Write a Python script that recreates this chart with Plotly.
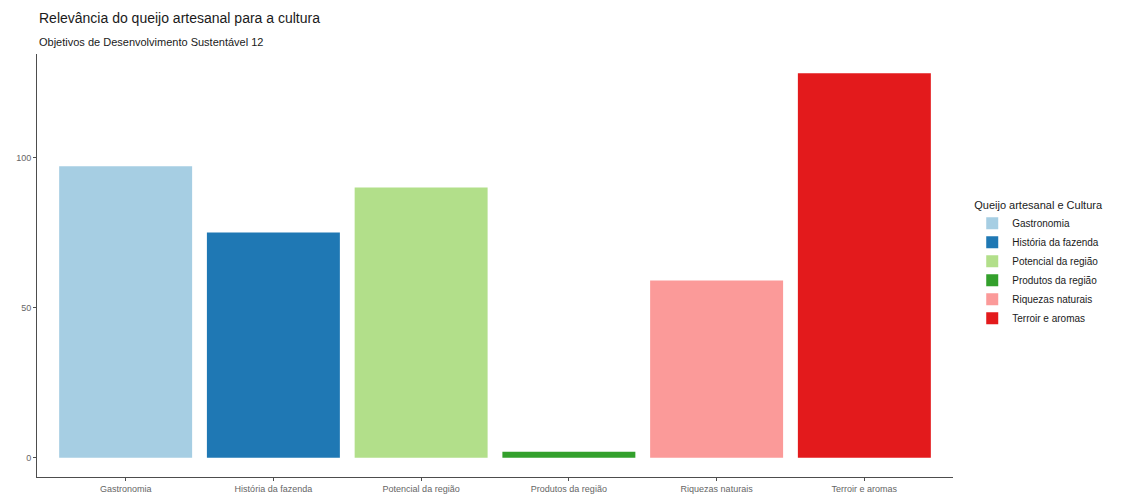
import plotly.graph_objects as go

categories = ["Gastronomia", "História da fazenda", "Potencial da região",
              "Produtos da região", "Riquezas naturais", "Terroir e aromas"]
values = [97, 75, 90, 2, 59, 128]
colors = ["#A6CEE3", "#1F78B4", "#B2DF8A", "#33A02C", "#FB9A99", "#E31A1C"]
y_ticks = [0, 50, 100]

fig = go.Figure()
for c, v, col in zip(categories, values, colors):
    fig.add_trace(go.Bar(x=[c], y=[v], name=c, marker=dict(color=col, line=dict(width=0)),
                         width=0.9, showlegend=True))

fig.add_annotation(text="Relevância do queijo artesanal para a cultura",
                   xref="paper", yref="paper", x=0, xanchor="left",
                   y=1 + 36/423, yanchor="middle", showarrow=False,
                   font=dict(size=14, color="#1a1a1a"))
fig.add_annotation(text="Objetivos de Desenvolvimento Sustentável 12",
                   xref="paper", yref="paper", x=0, xanchor="left",
                   y=1 + 12/423, yanchor="middle", showarrow=False,
                   font=dict(size=11, color="#1a1a1a"))

fig.update_layout(
    width=1137, height=486,
    barmode="overlay",
    plot_bgcolor="white", paper_bgcolor="white",
    font=dict(family="Liberation Sans, Arial, sans-serif", color="#4D4D4D"),
    margin=dict(l=29, r=192, t=46, b=17, autoexpand=False),
    xaxis=dict(categoryorder="array", categoryarray=categories, automargin=False,
               range=[-0.6, 5.6], showline=True, linecolor="#4D4D4D", linewidth=1,
               ticks="outside", ticklen=3, tickcolor="#4D4D4D",
               tickfont=dict(size=9, color="#666666"), showgrid=False, zeroline=False),
    yaxis=dict(range=[-6.4, 134.4], tickvals=y_ticks, showline=True, linecolor="#4D4D4D",
               automargin=False,
               linewidth=1, ticks="outside", ticklen=3, tickcolor="#4D4D4D",
               tickfont=dict(size=9, color="#666666"), showgrid=False, zeroline=False),
    legend=dict(title=dict(text="Queijo artesanal e Cultura", font=dict(size=11, color="#1a1a1a")),
                x=1.021, xanchor="left", y=0.668, yanchor="top",
                font=dict(size=10, color="#1a1a1a"), tracegroupgap=0, itemsizing="constant"),
)

fig.write_html("out.html")
